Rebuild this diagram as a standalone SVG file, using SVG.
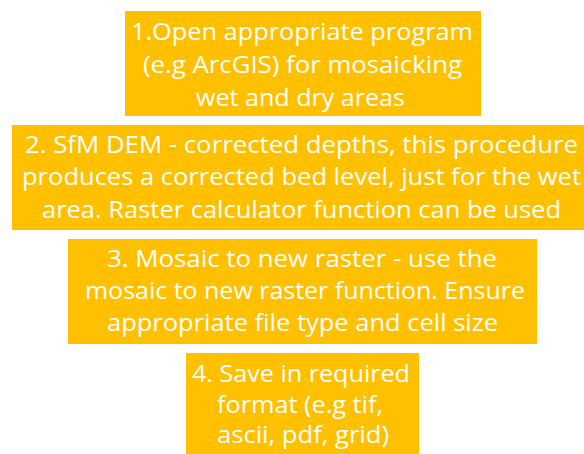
<svg xmlns="http://www.w3.org/2000/svg" width="584" height="454" viewBox="0 0 584 454">
<style>
.box{fill:#FFC000}
.t{font-family:"Open Sans","Liberation Sans",sans-serif;font-size:24px;fill:#FFFFFF;text-anchor:middle}
</style>
<rect width="584" height="454" fill="#FFFFFF"/>
<g id="node1">
<rect class="box" x="125" y="11" width="356" height="105"/>
<text class="t" x="302" y="40" textLength="342" lengthAdjust="spacingAndGlyphs">1.Open appropriate program</text>
<text class="t" x="302.5" y="73" textLength="319" lengthAdjust="spacingAndGlyphs">(e.g ArcGIS) for mosaicking</text>
<text class="t" x="300.5" y="106" textLength="209" lengthAdjust="spacingAndGlyphs">wet and dry areas</text>
</g>
<g id="node2">
<rect class="box" x="12" y="125" width="580" height="105"/>
<text class="t" x="301.5" y="153" textLength="553" lengthAdjust="spacingAndGlyphs">2. SfM DEM - corrected depths, this procedure</text>
<text class="t" x="301.5" y="185" textLength="559" lengthAdjust="spacingAndGlyphs">produces a corrected bed level, just for the wet</text>
<text class="t" x="301.5" y="218" textLength="519" lengthAdjust="spacingAndGlyphs">area. Raster calculator function can be used</text>
</g>
<g id="node3">
<rect class="box" x="68" y="239" width="469" height="105"/>
<text class="t" x="302" y="267" textLength="390" lengthAdjust="spacingAndGlyphs">3. Mosaic to new raster - use the</text>
<text class="t" x="305" y="299" textLength="440" lengthAdjust="spacingAndGlyphs">mosaic to new raster function. Ensure</text>
<text class="t" x="302.5" y="331" textLength="391" lengthAdjust="spacingAndGlyphs">appropriate file type and cell size</text>
</g>
<g id="node4">
<rect class="box" x="186" y="353" width="233" height="105"/>
<text class="t" x="301" y="382" textLength="218" lengthAdjust="spacingAndGlyphs">4. Save in required</text>
<text class="t" x="300" y="413" textLength="166" lengthAdjust="spacingAndGlyphs">format (e.g tif,</text>
<text class="t" x="303" y="443" textLength="172" lengthAdjust="spacingAndGlyphs">ascii, pdf, grid)</text>
</g>
<g id="connectors"/>
</svg>
